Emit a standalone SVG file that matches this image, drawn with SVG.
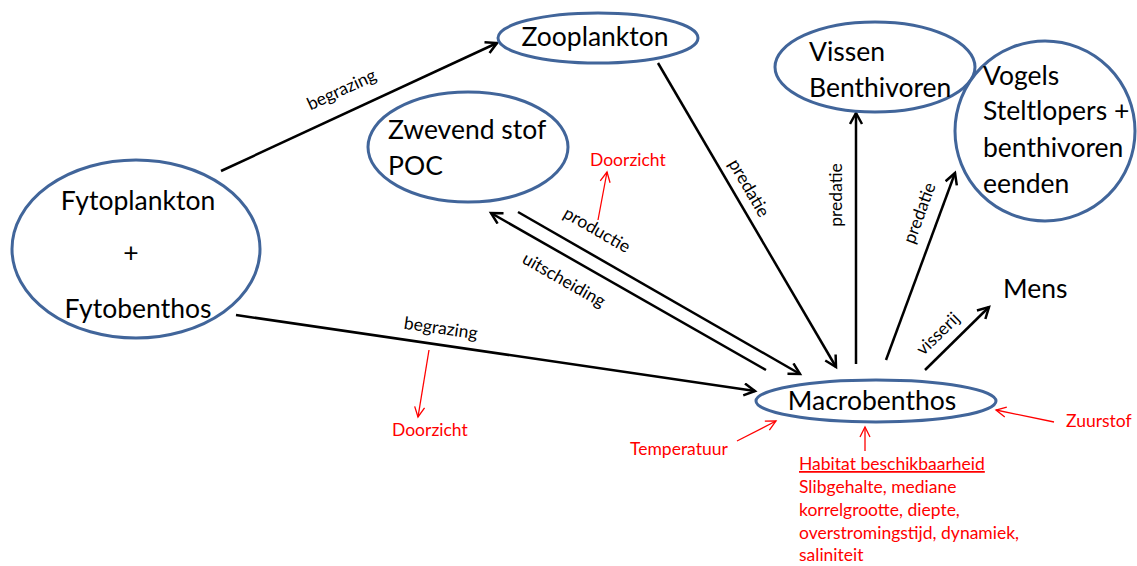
<svg xmlns="http://www.w3.org/2000/svg" width="1137" height="566" viewBox="0 0 1137 566">
<style>
.node{fill:#fff;stroke:#41659a;stroke-width:3}
.big{font-family:Lato,"Liberation Sans",sans-serif;font-size:26.5px;fill:#000}
.lbl{font-family:Lato,"Liberation Sans",sans-serif;font-size:17.5px;fill:#000}
.red{font-family:Lato,"Liberation Sans",sans-serif;font-size:17.5px;fill:#ff0000}
.edge{stroke:#000;stroke-width:2.5;fill:none}
.redge{stroke:#ff0000;stroke-width:1.3;fill:none}
</style>
<defs>
<marker id="ah" markerUnits="userSpaceOnUse" markerWidth="16" markerHeight="16" refX="12" refY="7" orient="auto">
<path d="M1,1 L12,7 L1,13" fill="none" stroke="#000" stroke-width="2.5"/>
</marker>
<marker id="rah" markerUnits="userSpaceOnUse" markerWidth="14" markerHeight="14" refX="11" refY="6" orient="auto">
<path d="M1,1 L11,6 L1,11" fill="none" stroke="#ff0000" stroke-width="1.3"/>
</marker>
</defs>
<rect width="1137" height="566" fill="#fff"/>
<g id="connectors">
<line class="edge" x1="221" y1="171" x2="497" y2="43" marker-end="url(#ah)"/>
<line class="edge" x1="236" y1="315" x2="755" y2="391" marker-end="url(#ah)"/>
<line class="edge" x1="518" y1="212" x2="800" y2="374" marker-end="url(#ah)"/>
<line class="edge" x1="766" y1="370" x2="491" y2="213" marker-end="url(#ah)"/>
<line class="edge" x1="658" y1="63" x2="836" y2="367" marker-end="url(#ah)"/>
<line class="edge" x1="856" y1="364" x2="856" y2="113" marker-end="url(#ah)"/>
<line class="edge" x1="886" y1="360" x2="955" y2="173" marker-end="url(#ah)"/>
<line class="edge" x1="925" y1="370" x2="989" y2="307" marker-end="url(#ah)"/>
<text class="lbl" text-anchor="middle" transform="translate(344,95) rotate(-24.8)">begrazing</text>
<text class="lbl" text-anchor="middle" transform="translate(440,334) rotate(8.3)">begrazing</text>
<text class="lbl" text-anchor="middle" transform="translate(594,235) rotate(29.9)">productie</text>
<text class="lbl" text-anchor="middle" transform="translate(561,285) rotate(29.7)">uitscheiding</text>
<text class="lbl" text-anchor="middle" transform="translate(744,191) rotate(59.7)">predatie</text>
<text class="lbl" text-anchor="middle" transform="translate(842,195) rotate(-90)">predatie</text>
<text class="lbl" text-anchor="middle" transform="translate(925,215) rotate(-69.7)">predatie</text>
<text class="lbl" text-anchor="middle" transform="translate(942,338) rotate(-44.5)">visserij</text>
<line class="redge" x1="598" y1="220" x2="607" y2="172" marker-end="url(#rah)"/>
<line class="redge" x1="429" y1="350" x2="418" y2="417" marker-end="url(#rah)"/>
<line class="redge" x1="737" y1="441" x2="776" y2="421" marker-end="url(#rah)"/>
<line class="redge" x1="865" y1="451" x2="865" y2="427" marker-end="url(#rah)"/>
<line class="redge" x1="1054" y1="422" x2="996" y2="410" marker-end="url(#rah)"/>
</g>
<g id="fytoplankton">
<ellipse class="node" cx="136" cy="249" rx="124" ry="89"/>
<text class="big" x="138" y="210" text-anchor="middle">Fytoplankton</text>
<text class="big" x="131" y="262" text-anchor="middle">+</text>
<text class="big" x="138" y="318" text-anchor="middle">Fytobenthos</text>
</g>
<g id="zooplankton">
<ellipse class="node" cx="598" cy="38" rx="100" ry="25"/>
<text class="big" x="595" y="46" text-anchor="middle">Zooplankton</text>
</g>
<g id="zwevendstof">
<ellipse class="node" cx="468" cy="147" rx="100" ry="55"/>
<text class="big" x="388" y="139">Zwevend stof</text>
<text class="big" x="388" y="175">POC</text>
</g>
<g id="vissen">
<ellipse class="node" cx="875" cy="67" rx="100" ry="45"/>
<text class="big" x="809" y="61">Vissen</text>
<text class="big" x="809" y="97">Benthivoren</text>
</g>
<g id="vogels">
<ellipse class="node" cx="1045" cy="131" rx="90" ry="90"/>
<text class="big" x="983" y="85">Vogels</text>
<text class="big" x="983" y="120">Steltlopers +</text>
<text class="big" x="983" y="157">benthivoren</text>
<text class="big" x="983" y="193">eenden</text>
</g>
<g id="mens">
<text class="big" x="1003" y="298">Mens</text>
</g>
<g id="macrobenthos">
<ellipse class="node" cx="876" cy="401" rx="120" ry="21"/>
<text class="big" x="872" y="410" text-anchor="middle">Macrobenthos</text>
</g>
<g id="factors">
<text class="red" x="590" y="166">Doorzicht</text>
<text class="red" x="392" y="436">Doorzicht</text>
<text class="red" x="630" y="455">Temperatuur</text>
<text class="red" x="1066" y="427">Zuurstof</text>
<text class="red" x="799" y="470" text-decoration="underline">Habitat beschikbaarheid</text>
<text class="red" x="799" y="493">Slibgehalte, mediane</text>
<text class="red" x="799" y="516">korrelgrootte, diepte,</text>
<text class="red" x="799" y="539">overstromingstijd, dynamiek,</text>
<text class="red" x="799" y="561">saliniteit</text>
</g>
</svg>
